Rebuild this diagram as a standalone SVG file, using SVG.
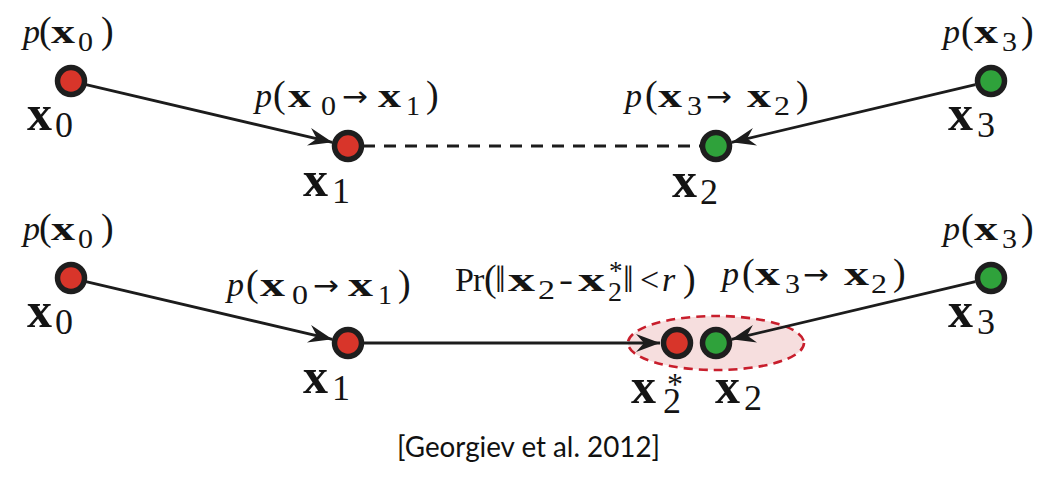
<svg xmlns="http://www.w3.org/2000/svg" width="1057" height="478" viewBox="0 0 1057 478">
<defs>
<marker id="ah" viewBox="-26 -11 28 22" refX="0" refY="0" markerWidth="28" markerHeight="22" markerUnits="userSpaceOnUse" orient="auto">
<path d="M0,0 L-24,-9 L-16,0 L-24,9 Z" fill="#1c1c1c"/>
</marker>
</defs>
<style>
text{font-family:"Liberation Serif","DejaVu Serif",serif;fill:#141414}
.it{font-style:italic}
.b{font-weight:bold}
.pl{font-size:34px}
.pp{font-size:38px}
.ps{font-size:27px}
.nl{font-size:50px;font-weight:bold}
.ns{font-size:36px}
.ar{font-family:"DejaVu Sans",sans-serif;font-size:28px}
.edge{stroke:#1c1c1c;stroke-width:2.8;fill:none}
.red{fill:#d8352a;stroke:#1e1e1e;stroke-width:5.5}
.grn{fill:#2fa23b;stroke:#1e1e1e;stroke-width:5.5}
.cite{font-family:Lato,"Noto Sans",sans-serif;font-size:28px;fill:#111}
</style>
<rect width="1057" height="478" fill="#ffffff"/>

<g id="region-x2">
<ellipse cx="716" cy="343" rx="88" ry="27" fill="#f6dede" stroke="#c81e2c" stroke-width="2.6" stroke-dasharray="9 6"/>
</g>

<g id="connectors">
<line class="edge" x1="86" y1="84.7" x2="332.4" y2="142.3" marker-end="url(#ah)"/>
<line class="edge" x1="363" y1="146" x2="700" y2="146" stroke-dasharray="12 9"/>
<line class="edge" x1="975.4" y1="84.7" x2="731.6" y2="142.3" marker-end="url(#ah)"/>
<line class="edge" x1="86" y1="281.7" x2="332.4" y2="339.3" marker-end="url(#ah)"/>
<line class="edge" x1="363" y1="343" x2="660" y2="343" marker-end="url(#ah)"/>
<line class="edge" x1="975.4" y1="281.7" x2="731.6" y2="339.3" marker-end="url(#ah)"/>
<text class="pl"><tspan class="it" x="255" y="107">p</tspan><tspan class="pp" x="273" y="107">(</tspan><tspan class="b" x="288" y="107" textLength="23" lengthAdjust="spacingAndGlyphs">x</tspan><tspan class="ps" x="321" y="115" textLength="15" lengthAdjust="spacingAndGlyphs">0</tspan><tspan class="ar" x="342" y="106" textLength="26" lengthAdjust="spacingAndGlyphs">→</tspan><tspan class="b" x="378" y="107" textLength="23" lengthAdjust="spacingAndGlyphs">x</tspan><tspan class="ps" x="406" y="115" textLength="14" lengthAdjust="spacingAndGlyphs">1</tspan><tspan class="pp" x="426" y="107">)</tspan></text>
<text class="pl"><tspan class="it" x="625" y="107">p</tspan><tspan class="pp" x="645" y="107">(</tspan><tspan class="b" x="658" y="107" textLength="24" lengthAdjust="spacingAndGlyphs">x</tspan><tspan class="ps" x="687" y="115" textLength="15" lengthAdjust="spacingAndGlyphs">3</tspan><tspan class="ar" x="706" y="106" textLength="26" lengthAdjust="spacingAndGlyphs">→</tspan><tspan class="b" x="747" y="107" textLength="24" lengthAdjust="spacingAndGlyphs">x</tspan><tspan class="ps" x="774" y="115" textLength="16" lengthAdjust="spacingAndGlyphs">2</tspan><tspan class="pp" x="796" y="107">)</tspan></text>
<text class="pl"><tspan class="it" x="227" y="296">p</tspan><tspan class="pp" x="246" y="296">(</tspan><tspan class="b" x="260" y="296" textLength="25" lengthAdjust="spacingAndGlyphs">x</tspan><tspan class="ps" x="292" y="304" textLength="16" lengthAdjust="spacingAndGlyphs">0</tspan><tspan class="ar" x="313" y="295" textLength="26" lengthAdjust="spacingAndGlyphs">→</tspan><tspan class="b" x="348" y="296" textLength="25" lengthAdjust="spacingAndGlyphs">x</tspan><tspan class="ps" x="378" y="304" textLength="14" lengthAdjust="spacingAndGlyphs">1</tspan><tspan class="pp" x="398" y="296">)</tspan></text>
<text class="pl"><tspan class="it" x="722" y="285">p</tspan><tspan class="pp" x="742" y="285">(</tspan><tspan class="b" x="755" y="285" textLength="25" lengthAdjust="spacingAndGlyphs">x</tspan><tspan class="ps" x="785" y="293" textLength="15" lengthAdjust="spacingAndGlyphs">3</tspan><tspan class="ar" x="803" y="284" textLength="26" lengthAdjust="spacingAndGlyphs">→</tspan><tspan class="b" x="844" y="285" textLength="25" lengthAdjust="spacingAndGlyphs">x</tspan><tspan class="ps" x="871" y="293" textLength="16" lengthAdjust="spacingAndGlyphs">2</tspan><tspan class="pp" x="893" y="285">)</tspan></text>
<text class="pl"><tspan x="455" y="291">P</tspan><tspan x="473" y="291">r</tspan><tspan class="pp" x="484" y="291">(</tspan><tspan class="pp" x="495" y="292">‖</tspan><tspan class="b" x="508" y="291" textLength="27" lengthAdjust="spacingAndGlyphs">x</tspan><tspan class="ps" x="538" y="299" textLength="17" lengthAdjust="spacingAndGlyphs">2</tspan><tspan x="559" y="291" textLength="14" lengthAdjust="spacingAndGlyphs">-</tspan><tspan class="b" x="578" y="291" textLength="27" lengthAdjust="spacingAndGlyphs">x</tspan><tspan class="ps" x="609" y="280">*</tspan><tspan class="ps" x="608" y="301" textLength="14" lengthAdjust="spacingAndGlyphs">2</tspan><tspan class="pp" x="623" y="292">‖</tspan><tspan x="640" y="291">&lt;</tspan><tspan class="it" x="662" y="291">r</tspan><tspan class="pp" x="683" y="291">)</tspan></text>
</g>

<g id="top-x0">
<circle class="red" cx="71" cy="81" r="13.5"/>
<text class="pl"><tspan class="it" x="23" y="43">p</tspan><tspan class="pp" x="39" y="43">(</tspan><tspan class="b" x="51" y="43" textLength="24" lengthAdjust="spacingAndGlyphs">x</tspan><tspan class="ps" x="78" y="51" textLength="15" lengthAdjust="spacingAndGlyphs">0</tspan><tspan class="pp" x="101" y="43">)</tspan></text>
<text><tspan class="nl" x="27" y="130">x</tspan><tspan class="ns" x="55" y="137">0</tspan></text>
</g>
<g id="top-x1">
<circle class="red" cx="348" cy="146" r="13.5"/>
<text><tspan class="nl" x="303" y="196">x</tspan><tspan class="ns" x="332" y="203">1</tspan></text>
</g>
<g id="top-x2">
<circle class="grn" cx="716" cy="146" r="13.5"/>
<text><tspan class="nl" x="672" y="197">x</tspan><tspan class="ns" x="700" y="204">2</tspan></text>
</g>
<g id="top-x3">
<circle class="grn" cx="991" cy="81" r="13.5"/>
<text class="pl"><tspan class="it" x="943" y="43">p</tspan><tspan class="pp" x="961" y="43">(</tspan><tspan class="b" x="974" y="43" textLength="24" lengthAdjust="spacingAndGlyphs">x</tspan><tspan class="ps" x="1002" y="51" textLength="15" lengthAdjust="spacingAndGlyphs">3</tspan><tspan class="pp" x="1021" y="43">)</tspan></text>
<text><tspan class="nl" x="948" y="130">x</tspan><tspan class="ns" x="977" y="137">3</tspan></text>
</g>

<g id="bottom-x0">
<circle class="red" cx="71" cy="278" r="13.5"/>
<text class="pl"><tspan class="it" x="23" y="240">p</tspan><tspan class="pp" x="39" y="240">(</tspan><tspan class="b" x="51" y="240" textLength="24" lengthAdjust="spacingAndGlyphs">x</tspan><tspan class="ps" x="78" y="248" textLength="15" lengthAdjust="spacingAndGlyphs">0</tspan><tspan class="pp" x="101" y="240">)</tspan></text>
<text><tspan class="nl" x="27" y="327">x</tspan><tspan class="ns" x="55" y="334">0</tspan></text>
</g>
<g id="bottom-x1">
<circle class="red" cx="348" cy="343" r="13.5"/>
<text><tspan class="nl" x="303" y="393">x</tspan><tspan class="ns" x="332" y="400">1</tspan></text>
</g>
<g id="bottom-x2star">
<circle class="red" cx="677" cy="343" r="13.5"/>
<text><tspan class="nl" x="631" y="403">x</tspan><tspan class="ns" x="667" y="395" style="font-size:32px">*</tspan><tspan class="ns" x="663" y="413">2</tspan></text>
</g>
<g id="bottom-x2">
<circle class="grn" cx="716" cy="343" r="13.5"/>
<text><tspan class="nl" x="715" y="403">x</tspan><tspan class="ns" x="744" y="410">2</tspan></text>
</g>
<g id="bottom-x3">
<circle class="grn" cx="991" cy="278" r="13.5"/>
<text class="pl"><tspan class="it" x="943" y="240">p</tspan><tspan class="pp" x="961" y="240">(</tspan><tspan class="b" x="974" y="240" textLength="24" lengthAdjust="spacingAndGlyphs">x</tspan><tspan class="ps" x="1002" y="248" textLength="15" lengthAdjust="spacingAndGlyphs">3</tspan><tspan class="pp" x="1021" y="240">)</tspan></text>
<text><tspan class="nl" x="948" y="327">x</tspan><tspan class="ns" x="977" y="334">3</tspan></text>
</g>

<text class="cite" x="397" y="457" textLength="263" lengthAdjust="spacingAndGlyphs">[Georgiev et al. 2012]</text>
</svg>
